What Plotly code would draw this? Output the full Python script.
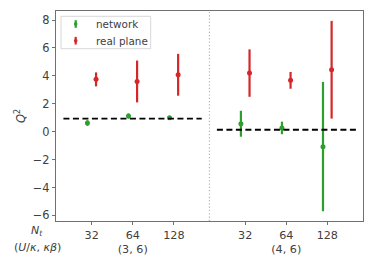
import plotly.graph_objects as go

# ---- data ----
nt_labels = ["32", "64", "128"]
group_labels = ["(3, 6)", "(4, 6)"]
x_pos = [0, 1, 2, 3.74, 4.74, 5.74]
net_q2 = [0.62, 1.12, 1.0, 0.57, 0.27, -1.07]
net_err = [0.2, 0.18, 0.1, 0.93, 0.45, 4.63]
real_q2 = [3.75, 3.6, 4.08, 4.2, 3.68, 4.44]
real_err = [0.5, 1.5, 1.5, 1.7, 0.6, 3.5]
ref_q2 = [0.93, 0.14]
ref_span = [[-0.69, 2.68], [3.05, 6.44]]
divider_x = 2.868
legend_names = ["network", "real plane"]

GREEN = "#2ca02c"
RED = "#d62728"
TXT = "#404040"
FONT = "DejaVu Sans"
off = 0.105

W, H = 374, 267
ML, MR, MT, MB = 56, 11, 11, 46
PW, PH = W - ML - MR, H - MT - MB


def px(xp):
    return (xp - ML) / PW


def py(yp):
    return (H - MB - yp) / PH


fig = go.Figure()

fig.add_trace(go.Scatter(
    x=[p - off for p in x_pos], y=net_q2, mode="markers",
    marker=dict(color=GREEN, size=5),
    error_y=dict(type="data", array=net_err, color=GREEN, thickness=2.2, width=0),
    showlegend=False, name=legend_names[0]))
fig.add_trace(go.Scatter(
    x=[p + off for p in x_pos], y=real_q2, mode="markers",
    marker=dict(color=RED, size=5),
    error_y=dict(type="data", array=real_err, color=RED, thickness=2.2, width=0),
    showlegend=False, name=legend_names[1]))

shapes = []
# reference dashed lines
for val, (x0, x1) in zip(ref_q2, ref_span):
    shapes.append(dict(type="line", x0=x0, x1=x1, y0=val, y1=val, xref="x", yref="y",
                       line=dict(color="black", width=1.8, dash="6px,3.5px")))
# group divider
shapes.append(dict(type="line", x0=divider_x, x1=divider_x, y0=0, y1=1, xref="x", yref="paper",
                   line=dict(color="#b4b4b4", width=1.2, dash="1.2px,2.1px")))

# manual legend (matplotlib-like)
shapes.append(dict(type="rect", xref="paper", yref="paper",
                   x0=px(61), x1=px(150.7), y0=py(48.7), y1=py(16.3),
                   line=dict(color="#d8d8d8", width=1), fillcolor="white"))
annotations = []
for nm, col, yc in [(legend_names[0], GREEN, 24.0), (legend_names[1], RED, 40.7)]:
    shapes.append(dict(type="line", xref="paper", yref="paper",
                       x0=px(75.7), x1=px(75.7), y0=py(yc + 3.8), y1=py(yc - 3.8),
                       line=dict(color=col, width=2.2)))
    shapes.append(dict(type="circle", xref="paper", yref="paper",
                       x0=px(73.9), x1=px(77.5), y0=py(yc + 1.8), y1=py(yc - 1.8),
                       line=dict(color=col, width=0), fillcolor=col))
    annotations.append(dict(text=nm, xref="paper", yref="paper", x=px(93.5), y=py(yc),
                            xanchor="left", yanchor="middle", showarrow=False,
                            font=dict(size=10.4, color=TXT)))

annotations += [
    dict(text="<i>Q</i><sup>2</sup>", xref="paper", yref="paper",
         x=px(20), y=0.5, xanchor="center", yanchor="middle", textangle=-90, showarrow=False,
         font=dict(size=11.5, color=TXT)),
    dict(text="<i>N</i><sub><i>t</i></sub>", xref="paper", yref="paper",
         x=px(37), y=py(231), xanchor="center", yanchor="middle", showarrow=False,
         font=dict(size=11, color=TXT)),
    dict(text="(<i>U</i>/<i>\u03ba</i>, <i>\u03ba\u03b2</i>)", xref="paper", yref="paper",
         x=px(37), y=py(247), xanchor="center", yanchor="middle", showarrow=False,
         font=dict(size=11, color=TXT)),
]

ticktext = []
for gi, g in enumerate(group_labels):
    for i, t in enumerate(nt_labels):
        ticktext.append(t + ("<br>" + g if i == 1 else ""))

fig.update_layout(
    width=W, height=H,
    margin=dict(l=ML, r=MR, t=MT, b=MB),
    plot_bgcolor="white", paper_bgcolor="white",
    font=dict(family=FONT, size=11, color=TXT),
    showlegend=False,
    hovermode=False,
    xaxis=dict(range=[-0.871, 6.61], tickvals=x_pos, ticktext=ticktext,
               showgrid=False, zeroline=False, showline=True, mirror=True,
               linecolor="#707070", linewidth=1.2, ticks="outside", ticklen=3,
               tickcolor="#707070", tickfont=dict(size=11.2, color=TXT)),
    yaxis=dict(range=[-6.4, 8.65], tickvals=[-6, -4, -2, 0, 2, 4, 6, 8],
               ticktext=["\u22126", "\u22124", "\u22122", "0", "2", "4", "6", "8"],
               showgrid=False, zeroline=False, showline=True, mirror=True,
               linecolor="#707070", linewidth=1.2, ticks="outside", ticklen=3,
               tickcolor="#707070", tickfont=dict(size=11.4, color=TXT)),
    shapes=shapes,
    annotations=annotations,
)

fig.write_html("out.html", config={"displayModeBar": False},
               post_script="document.body.style.margin='0';document.body.style.overflow='hidden';")
